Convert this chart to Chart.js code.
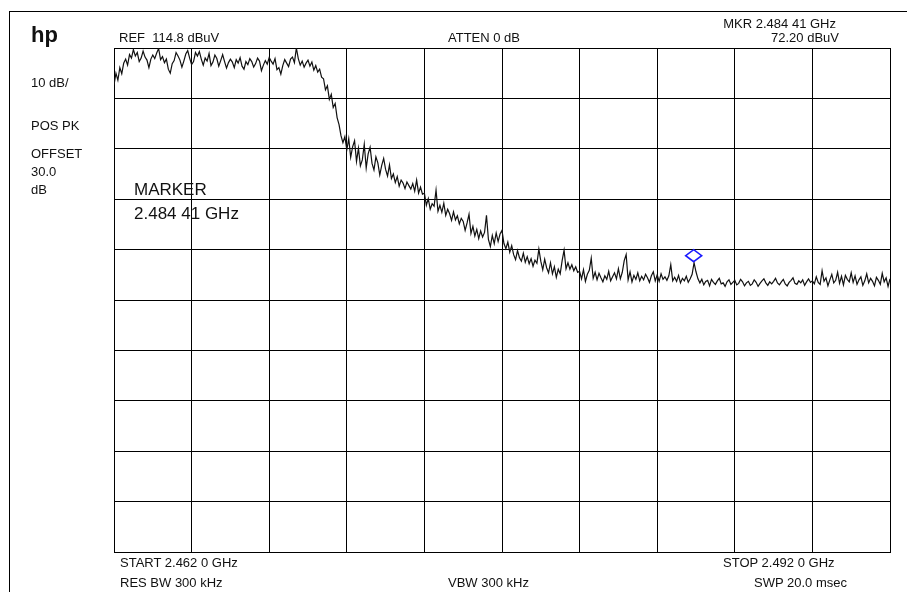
<!DOCTYPE html>
<html>
<head>
<meta charset="utf-8">
<script src="https://cdn.jsdelivr.net/npm/chart.js@4.4.1/dist/chart.umd.min.js"></script>
<style>
  html, body { margin: 0; padding: 0; background: #fff; }
  #wrap { position: relative; width: 907px; height: 592px; overflow: hidden; font-family: "Liberation Sans", Arial, sans-serif; color: #111; }
  #frame { position: absolute; left: 9px; top: 11px; width: 910px; height: 600px; border-top: 1px solid #000; border-left: 1px solid #000; }
  canvas { position: absolute; left: 0; top: 0; }
  .t { position: absolute; font-size: 13px; line-height: 1; white-space: pre; }
  .r { text-align: right; }
  .big { font-size: 17px; }
  .logo { font-size: 22px; font-weight: bold; }
</style>
</head>
<body>
<div id="wrap">
  <div id="frame"></div>
  <canvas id="spec" width="907" height="592"></canvas>
  <div class="t logo" style="left:31px; top:24px;">hp</div>
  <div class="t" style="left:119px; top:30.5px;">REF  114.8 dBuV</div>
  <div class="t" style="left:448px; top:30.5px;">ATTEN 0 dB</div>
  <div class="t r" style="right:71px; top:16.8px;">MKR 2.484 41 GHz</div>
  <div class="t r" style="right:68px; top:30.8px;">72.20 dBuV</div>
  <div class="t" style="left:31px; top:75.8px;">10 dB/</div>
  <div class="t" style="left:31px; top:118.8px;">POS PK</div>
  <div class="t" style="left:31px; top:146.5px;">OFFSET</div>
  <div class="t" style="left:31px; top:164.8px;">30.0</div>
  <div class="t" style="left:31px; top:182.5px;">dB</div>
  <div class="t big" style="left:134px; top:181.4px;">MARKER</div>
  <div class="t big" style="left:134px; top:205px;">2.484 41 GHz</div>
  <div class="t" style="left:120px; top:555.5px;">START 2.462 0 GHz</div>
  <div class="t" style="left:723px; top:555.5px;">STOP 2.492 0 GHz</div>
  <div class="t" style="left:120px; top:576px;">RES BW 300 kHz</div>
  <div class="t" style="left:448px; top:576px;">VBW 300 kHz</div>
  <div class="t" style="left:754px; top:576px;">SWP 20.0 msec</div>
</div>
<script>
// sweep settings (MHz / dBuV)
const startMHz = 2462.0;
const stopMHz = 2492.0;
const refLevel = 114.8;
const dbPerDiv = 10;

// grid divisions
const xTicks = [2462, 2465, 2468, 2471, 2474, 2477, 2480, 2483, 2486, 2489, 2492];
const yTicks = [14.8, 24.8, 34.8, 44.8, 54.8, 64.8, 74.8, 84.8, 94.8, 104.8, 114.8];

// marker
const markerMHz = 2484.41;
const markerLevel = 72.20;

// trace, 401 points (dBuV)
const traceLevels = [
  107.5, 109.8, 108.4, 110.9, 109.7, 111.8, 112.6, 111.4, 113.5, 112.8, 114.5, 113.2, 113.9, 112.1, 112.8, 114.2, 113.0, 112.4, 110.9, 112.6,
  113.4, 112.7, 113.8, 114.7, 112.5, 113.1, 111.9, 112.6, 110.6, 109.8, 111.7, 112.3, 113.9, 113.2, 112.4, 111.0, 112.2, 113.6, 114.3, 112.8,
  111.5, 112.1, 113.9, 113.2, 114.1, 112.6, 111.4, 112.8, 112.2, 113.7, 111.3, 112.0, 113.4, 112.7, 111.2, 112.3, 113.5, 112.1, 110.8, 111.9,
  112.6, 112.0, 110.9, 112.5, 111.8, 112.9, 111.2, 110.6, 112.1, 111.5, 112.7, 112.1, 111.0, 111.7, 112.8, 112.2, 110.3, 111.4, 112.3, 111.6,
  112.9, 112.2, 111.6, 112.7, 110.5, 110.9, 109.6, 111.3, 112.5, 111.8, 111.1, 112.6, 113.0, 111.9, 114.8, 112.7, 111.4, 112.2, 111.0, 111.8,
  112.4, 111.2, 112.0, 110.4, 111.3, 110.0, 110.6, 109.0, 108.7, 106.5, 107.3, 104.6, 105.6, 103.0, 103.8, 101.0, 99.6, 97.4, 96.0, 97.2,
  94.6, 96.8, 93.1, 95.2, 96.4, 92.3, 94.9, 91.4, 92.6, 95.7, 91.0, 93.8, 95.1, 91.9, 90.6, 93.2, 92.0, 89.6, 91.5, 92.9,
  90.7, 89.4, 91.6, 88.9, 89.8, 88.1, 89.3, 87.4, 88.6, 88.0, 86.9, 88.2, 87.5, 86.8, 87.9, 86.4, 88.6, 86.0, 87.2, 85.8,
  86.0, 83.6, 84.9, 82.8, 83.9, 83.4, 86.6, 82.4, 83.6, 82.2, 84.0, 81.6, 82.8, 81.9, 80.6, 82.3, 80.7, 81.5, 79.9, 81.0,
  80.4, 78.6, 80.1, 81.8, 78.0, 79.4, 77.5, 78.8, 77.0, 78.5, 77.3, 78.2, 81.6, 76.8, 75.4, 77.6, 76.0, 78.1, 76.4, 77.9,
  78.6, 76.0, 75.0, 76.3, 74.3, 75.6, 73.8, 72.8, 74.6, 73.2, 72.5, 74.1, 72.3, 73.4, 72.0, 73.0, 71.5, 72.7, 72.1, 74.9,
  72.5, 70.8, 72.9, 71.2, 70.2, 72.2, 70.0, 71.4, 69.3, 70.9, 70.0, 72.6, 74.7, 71.0, 72.2, 70.9, 71.8, 70.6, 71.4, 70.3,
  70.5, 69.0, 70.8, 68.5, 69.9, 70.7, 73.1, 69.1, 70.3, 68.8, 70.1, 69.2, 68.4, 69.6, 68.9, 70.5, 68.6, 69.4, 70.2, 69.0,
  71.0, 69.0, 70.3, 72.6, 73.8, 68.8, 70.4, 68.4, 69.7, 68.9, 70.2, 68.6, 69.5, 68.8, 69.9, 69.2, 68.3, 69.6, 70.4, 68.6,
  69.8, 68.5, 70.0, 68.9, 69.4, 68.7, 69.6, 71.8, 68.6, 69.3, 68.5, 69.7, 68.2, 69.1, 68.6, 69.5, 68.3, 69.0, 69.9, 72.2,
  70.4, 69.0, 68.2, 68.9, 67.8, 68.5, 68.7, 67.6, 68.9, 68.3, 67.9, 68.6, 69.1, 68.0, 68.2, 67.5, 68.4, 68.8, 67.9, 68.3,
  68.7, 67.8, 68.1, 68.9, 68.4, 67.6, 68.2, 68.5, 67.7, 68.0, 68.8, 68.3, 67.5, 68.1, 68.6, 69.0, 68.2, 67.7, 68.4, 68.0,
  68.5, 69.1, 68.2, 67.8, 68.4, 68.9, 68.0, 67.6, 68.3, 68.7, 69.2, 68.1, 67.9, 68.6, 68.2, 68.8, 67.7, 68.4, 69.0, 68.3,
  68.6, 68.0, 69.4, 68.3, 67.9, 70.6, 68.5, 69.2, 67.6, 68.8, 69.9, 68.2, 68.7, 70.3, 68.1, 69.5, 67.8, 69.7, 68.9, 68.4,
  70.2, 68.3, 69.6, 67.9, 68.8, 69.4, 67.7, 68.6, 70.0, 68.2, 69.1, 68.5, 67.6, 69.3, 68.7, 67.9, 70.1, 68.4, 69.2, 67.5,
  69.0
];

// sweep point frequencies
const step = (stopMHz - startMHz) / (traceLevels.length - 1);
const tracePoints = traceLevels.map((v, i) => ({ x: startMHz + i * step, y: v }));

// blue diamond sitting on top of the marker point
const markerPlugin = {
  id: "marker",
  afterDatasetsDraw(chart) {
    const ctx = chart.ctx;
    const px = chart.scales.x.getPixelForValue(markerMHz);
    const py = chart.scales.y.getPixelForValue(markerLevel);
    ctx.save();
    ctx.strokeStyle = "#1a1aff";
    ctx.lineWidth = 1.6;
    ctx.beginPath();
    ctx.moveTo(px, py - 1);
    ctx.lineTo(px + 8, py - 7);
    ctx.lineTo(px, py - 13);
    ctx.lineTo(px - 8, py - 7);
    ctx.closePath();
    ctx.stroke();
    ctx.restore();
  }
};

new Chart(document.getElementById("spec"), {
  type: "line",
  data: {
    datasets: [{
      data: tracePoints,
      borderColor: "#111",
      borderWidth: 1.2,
      pointRadius: 0,
      tension: 0,
      fill: false
    }]
  },
  options: {
    responsive: false,
    animation: false,
    layout: { padding: { left: 114, top: 48, right: 17, bottom: 40 } },
    plugins: { legend: { display: false }, tooltip: { enabled: false } },
    scales: {
      x: {
        type: "linear",
        min: startMHz,
        max: stopMHz,
        afterBuildTicks: (s) => { s.ticks = xTicks.map(v => ({ value: v })); },
        ticks: { display: false },
        grid: { color: "#000", lineWidth: 1, drawTicks: false },
        border: { color: "#000", width: 1 }
      },
      y: {
        min: refLevel - dbPerDiv * 10,
        max: refLevel,
        afterBuildTicks: (s) => { s.ticks = yTicks.map(v => ({ value: v })); },
        ticks: { display: false },
        grid: { color: "#000", lineWidth: 1, drawTicks: false },
        border: { color: "#000", width: 1 }
      }
    }
  },
  plugins: [markerPlugin]
});
</script>
</body>
</html>
